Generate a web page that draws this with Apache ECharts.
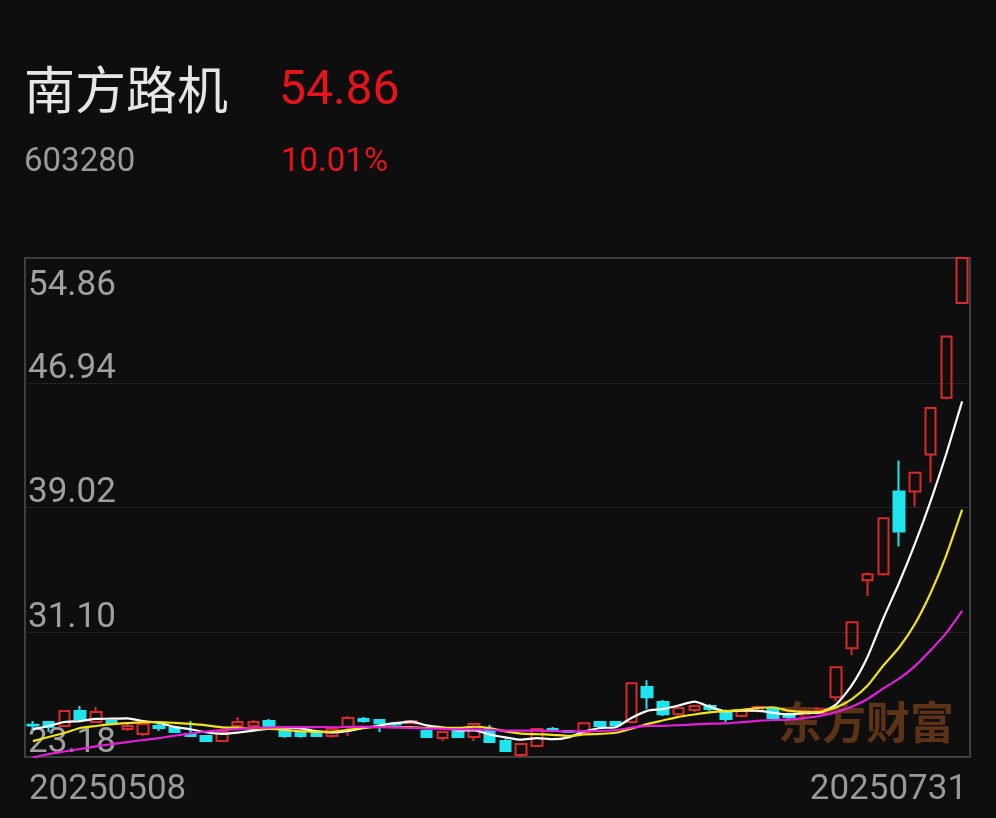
<!DOCTYPE html>
<html>
<head>
<meta charset="utf-8">
<script src="https://cdn.jsdelivr.net/npm/echarts@6/dist/echarts.min.js"></script>
<style>
html,body{margin:0;padding:0;background:#0e0e0e;}
#c{width:996px;height:818px;}
</style>
</head>
<body>
<div id="c"></div>
<script>
const stockName = '南方路机';
const stockCode = '603280';
const lastPrice = '54.86';
const changePct = '10.01%';
const watermark = '东方财富';

const dates = ['20250508','20250509','20250512','20250513','20250514','20250515','20250516','20250519','20250520','20250521',
'20250522','20250523','20250526','20250527','20250528','20250529','20250530','20250603','20250604','20250605',
'20250606','20250609','20250610','20250611','20250612','20250613','20250616','20250617','20250618','20250619',
'20250620','20250623','20250624','20250625','20250626','20250627','20250630','20250701','20250702','20250703',
'20250704','20250707','20250708','20250709','20250710','20250711','20250714','20250715','20250716','20250717',
'20250718','20250721','20250722','20250723','20250724','20250725','20250728','20250729','20250730','20250731'];

const opens = [25.22,25.40,25.15,26.10,25.40,25.46,24.95,24.64,25.15,25.02,
24.64,24.52,24.19,25.15,25.15,25.46,24.83,24.70,24.70,24.52,
25.08,25.59,25.53,25.30,25.33,24.83,24.38,24.76,24.45,24.95,
24.19,23.30,23.88,24.95,24.83,24.70,25.40,25.40,25.40,27.62,
26.67,25.90,26.16,26.41,26.10,25.78,26.10,26.22,25.90,25.90,
25.95,26.98,30.09,34.40,34.78,40.04,40.04,42.38,45.99,52.00];

const closes = [25.18,25.08,26.10,25.59,26.03,25.27,25.15,25.27,25.02,24.76,
24.52,24.19,24.76,25.40,25.40,25.15,24.52,24.52,24.52,24.95,
25.65,25.46,25.33,25.25,25.46,24.45,24.76,24.45,25.27,24.13,
23.56,24.00,24.95,24.89,24.76,25.33,25.15,25.20,27.87,26.98,
25.90,26.29,26.41,26.22,25.59,26.10,26.35,25.65,25.72,26.10,
26.25,28.88,31.73,34.78,38.33,37.50,41.22,45.34,49.87,54.86];

const lows = [24.89,24.76,25.10,25.55,25.35,25.20,24.85,24.50,24.83,24.70,
24.50,24.13,24.13,25.10,25.12,25.10,24.40,24.40,24.45,24.40,
24.52,25.35,24.76,25.15,25.30,24.40,24.19,24.38,24.19,24.10,
23.50,23.18,23.85,24.80,24.70,24.65,25.10,25.15,25.30,26.22,
25.78,25.85,26.03,26.10,25.40,25.70,26.00,25.50,25.60,25.85,
25.90,26.73,29.64,33.40,34.70,36.55,39.09,40.61,45.90,52.00];

const highs = [25.46,25.46,26.15,26.41,26.35,25.50,25.35,25.30,25.27,25.10,
25.46,24.58,24.80,25.72,25.53,25.60,25.00,24.83,24.76,25.00,
25.78,25.72,25.60,25.40,25.50,24.90,24.80,24.80,25.30,25.21,
24.32,24.00,25.00,25.08,24.90,25.35,25.45,25.45,27.90,28.06,
26.80,26.35,26.45,26.54,26.20,26.20,26.45,26.30,26.00,26.20,
26.30,28.88,31.76,34.90,38.35,42.00,41.30,45.40,49.87,54.86];

const ma5 = [24.95,25.15,25.40,25.46,25.60,25.61,25.63,25.46,25.35,25.09,
24.94,24.75,24.65,24.73,24.85,24.98,25.05,25.00,24.82,24.73,
24.83,25.02,25.18,25.33,25.43,25.19,25.05,24.87,24.88,24.61,
24.43,24.28,24.38,24.31,24.43,24.79,25.02,25.07,25.66,26.11,
26.22,26.45,26.69,26.36,26.08,26.12,26.13,25.98,25.88,25.98,
26.01,26.52,27.74,29.55,31.99,34.24,36.71,39.43,42.45,45.76];

const ma10 = [24.19,24.45,24.70,25.02,25.15,25.27,25.33,25.40,25.40,25.35,
25.28,25.19,25.06,25.04,24.97,24.96,24.90,24.82,24.77,24.79,
24.91,25.03,25.09,25.08,25.08,25.01,25.04,25.03,25.10,25.02,
24.81,24.67,24.63,24.59,24.52,24.61,24.65,24.72,24.98,25.27,
25.50,25.73,25.88,26.01,26.09,26.17,26.29,26.34,26.12,26.03,
26.07,26.33,26.86,27.72,28.99,30.13,31.62,33.59,36.00,38.88];

const ma20 = [23.15,23.37,23.53,23.69,23.85,24.00,24.13,24.26,24.38,24.54,
24.67,24.80,24.89,24.95,25.02,25.05,25.08,25.08,25.08,25.07,
25.09,25.11,25.07,25.06,25.03,24.99,24.97,24.93,24.94,24.91,
24.86,24.85,24.86,24.83,24.80,24.81,24.84,24.88,25.04,25.15,
25.16,25.20,25.25,25.30,25.31,25.39,25.47,25.53,25.55,25.65,
25.79,26.03,26.37,26.86,27.54,28.15,28.95,29.96,31.06,32.45];

const yTicks = [23.18, 31.10, 39.02, 46.94, 54.86];

const candleData = dates.map((d, i) => [opens[i], closes[i], lows[i], highs[i]]);

const RED = '#d9292b';
const CYAN = '#1ee4ee';
const NUM_FONT = 'Roboto, "Noto Sans", sans-serif';

const chart = echarts.init(document.getElementById('c'), null, {renderer: 'canvas'});
chart.setOption({
  backgroundColor: '#0e0e0e',
  animation: false,
  title: [
    {text: stockName, left: 24, top: 64, padding: 0,
     textStyle: {color: '#e6e6e6', fontSize: 51, fontWeight: 'normal', fontFamily: '"Noto Sans CJK SC", sans-serif'}},
    {text: lastPrice, left: 279, top: 68, padding: 0,
     textStyle: {color: '#e5141b', fontSize: 48, fontWeight: 'normal', fontFamily: NUM_FONT}},
    {text: stockCode, left: 24, top: 146, padding: 0,
     textStyle: {color: '#9b9b9b', fontSize: 33, fontWeight: 'normal', fontFamily: NUM_FONT}},
    {text: changePct, left: 281, top: 146, padding: 0,
     textStyle: {color: '#e5141b', fontSize: 33, fontWeight: 'normal', fontFamily: NUM_FONT}}
  ],
  graphic: [
    {type: 'text', right: 42, bottom: 74, z: 0, silent: true,
     style: {text: watermark, fill: '#5c3316', font: 'bold 44px "Noto Sans CJK SC"'}}
  ],
  grid: {left: 25, right: 26, top: 258, bottom: 61, show: true,
         borderColor: '#404040', borderWidth: 2, backgroundColor: 'transparent'},
  xAxis: {
    type: 'category', data: dates, boundaryGap: true,
    axisLine: {show: false}, axisTick: {show: false}, splitLine: {show: false},
    axisLabel: {
      interval: (idx) => idx === 0 || idx === dates.length - 1,
      color: '#999999', fontSize: 35, fontFamily: NUM_FONT, margin: 16,
      alignMinLabel: 'left', alignMaxLabel: 'right',
      padding: [0, -5, 0, -4]
    }
  },
  yAxis: {
    type: 'value', min: yTicks[0], max: yTicks[yTicks.length - 1],
    interval: Math.round((yTicks[1] - yTicks[0]) * 100) / 100,
    axisLine: {show: false}, axisTick: {show: false},
    splitLine: {show: true, lineStyle: {color: '#383838', type: 'dotted', width: 1}},
    axisLabel: {
      inside: true, margin: 3, color: '#a0a0a0', fontSize: 35, fontFamily: NUM_FONT,
      verticalAlign: 'bottom', verticalAlignMaxLabel: 'top', lineHeight: 28,
      padding: [14, 0, 0, 0],
      formatter: (v) => v.toFixed(2)
    }
  },
  series: [
    {type: 'candlestick', data: candleData, barWidth: 11, z: 3,
     itemStyle: {color: 'transparent', color0: CYAN, borderColor: RED, borderColor0: CYAN, borderWidth: 2}},
    {type: 'line', data: ma5, symbol: 'none', smooth: 0.2, z: 4,
     lineStyle: {color: '#ffffff', width: 2.2}},
    {type: 'line', data: ma10, symbol: 'none', smooth: 0.2, z: 4,
     lineStyle: {color: '#f2e21c', width: 2.2}},
    {type: 'line', data: ma20, symbol: 'none', smooth: 0.2, z: 4,
     lineStyle: {color: '#e41fdc', width: 2.2}}
  ]
});
</script>
</body>
</html>
